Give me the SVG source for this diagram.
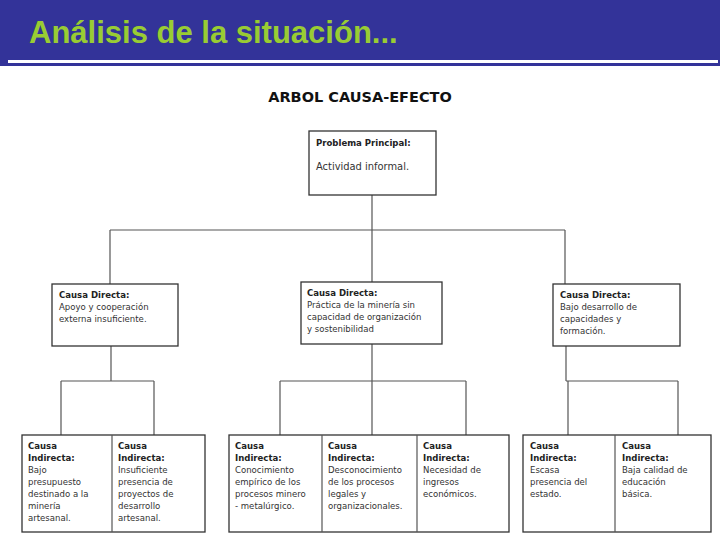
<svg xmlns="http://www.w3.org/2000/svg" width="720" height="540" viewBox="0 0 720 540">
<style>
.b{fill:#fff;stroke:#333;stroke-width:1.3}
.c{stroke:#555;stroke-width:1.2;fill:none}
text{font-family:"DejaVu Sans Condensed","DejaVu Sans",sans-serif;font-size:9.5px;fill:#333}
.h{font-weight:bold;fill:#222}
</style>
<rect width="720" height="540" fill="#fff"/>
<rect width="720" height="66" fill="#333399"/>
<rect x="8" y="60" width="710" height="3" fill="#fff"/>
<text x="29" y="43" style="font-family:'Liberation Sans',Arial,sans-serif;font-size:31px;font-weight:bold;fill:#99cc33">Análisis de la situación...</text>
<text x="360" y="102" text-anchor="middle" style="font-family:'DejaVu Sans',sans-serif;font-size:14.5px;font-weight:bold;fill:#111">ARBOL CAUSA-EFECTO</text>
<g id="connectors" class="c">
<path d="M372 195V230M110 230H565M110 230V284M372 230V282M565 230V284"/>
<path d="M111 346V381M61 381H154M61 381V435M154 381V435"/>
<path d="M372 344V381M280 381H466M280 381V435M372 381V435M466 381V435"/>
<path d="M566 346V381M566 381H678M568 381V435M678 381V435"/>
</g>
<g id="problema"><rect class="b" x="309" y="131" width="127" height="64"/>
<text x="316" y="146" class="h">Problema Principal:</text><text x="316" y="170" style="font-size:11px">Actividad informal.</text></g>
<g id="cd1"><rect class="b" x="52" y="284" width="126" height="62"/>
<text x="59" y="298" class="h">Causa Directa:</text><text x="59" y="310">Apoyo  y  cooperación</text><text x="59" y="322">externa insuficiente.</text></g>
<g id="cd2"><rect class="b" x="301" y="282" width="141" height="62"/>
<text x="307" y="296" class="h">Causa Directa:</text><text x="307" y="308">Práctica de la minería sin</text><text x="307" y="320">capacidad de organización</text><text x="307" y="332">y sostenibilidad</text></g>
<g id="cd3"><rect class="b" x="553" y="284" width="127" height="62"/>
<text x="560" y="298" class="h">Causa Directa:</text><text x="560" y="310">Bajo    desarrollo     de</text><text x="560" y="322">capacidades               y</text><text x="560" y="334">formación.</text></g>
<g id="ci-g1"><rect class="b" x="22" y="435" width="183" height="97"/><path class="c" d="M112 435V532"/>
<text x="28" y="449" class="h">Causa</text><text x="28" y="461" class="h">Indirecta:</text><text x="28" y="473">Bajo</text><text x="28" y="485">presupuesto</text><text x="28" y="497">destinado a la</text><text x="28" y="509">minería</text><text x="28" y="521">artesanal.</text>
<text x="118" y="449" class="h">Causa</text><text x="118" y="461" class="h">Indirecta:</text><text x="118" y="473">Insuficiente</text><text x="118" y="485">presencia de</text><text x="118" y="497">proyectos de</text><text x="118" y="509">desarrollo</text><text x="118" y="521">artesanal.</text></g>
<g id="ci-g2"><rect class="b" x="229" y="435" width="280" height="97"/><path class="c" d="M322 435V532M417 435V532"/>
<text x="235" y="449" class="h">Causa</text><text x="235" y="461" class="h">Indirecta:</text><text x="235" y="473">Conocimiento</text><text x="235" y="485">empírico de los</text><text x="235" y="497">procesos minero</text><text x="235" y="509">- metalúrgico.</text>
<text x="328" y="449" class="h">Causa</text><text x="328" y="461" class="h">Indirecta:</text><text x="328" y="473">Desconocimiento</text><text x="328" y="485">de los procesos</text><text x="328" y="497">legales y</text><text x="328" y="509">organizacionales.</text>
<text x="423" y="449" class="h">Causa</text><text x="423" y="461" class="h">Indirecta:</text><text x="423" y="473">Necesidad de</text><text x="423" y="485">ingresos</text><text x="423" y="497">económicos.</text></g>
<g id="ci-g3"><rect class="b" x="523" y="435" width="188" height="97"/><path class="c" d="M615 435V532"/>
<text x="530" y="449" class="h">Causa</text><text x="530" y="461" class="h">Indirecta:</text><text x="530" y="473">Escasa</text><text x="530" y="485">presencia del</text><text x="530" y="497">estado.</text>
<text x="622" y="449" class="h">Causa</text><text x="622" y="461" class="h">Indirecta:</text><text x="622" y="473">Baja calidad de</text><text x="622" y="485">educación</text><text x="622" y="497">básica.</text></g>
</svg>
